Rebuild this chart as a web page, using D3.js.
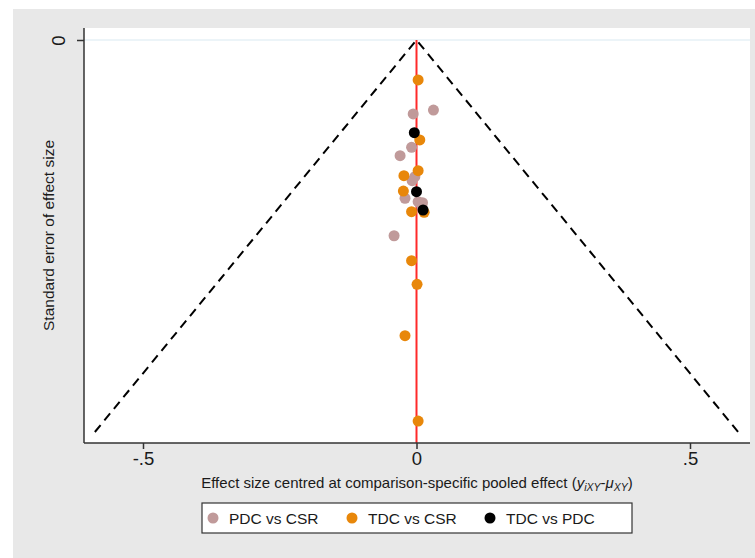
<!DOCTYPE html>
<html>
<head>
<meta charset="utf-8">
<script src="https://cdn.jsdelivr.net/npm/d3@7"></script>
<style>
    body { margin: 0; background: #fff; }
    text { font-family: "Liberation Sans", Arial, sans-serif; fill: #1a1a1a; }
</style>
</head>
<body>
<div id="chart"></div>
<script>
// comparison groups (legend order)
const groups = ["PDC vs CSR", "TDC vs CSR", "TDC vs PDC"];
const groupColors = ["#c09a9a", "#e8870a", "#000000"];

// centred effect (x) and standard error (y) for each group
const pdcCsrEffect = [-0.006, 0.031, -0.009, -0.030, -0.003, -0.008, -0.021, 0.003, 0.011, 0.010, -0.041];
const pdcCsrSE     = [0.0566, 0.0536, 0.0821, 0.0885, 0.1046, 0.1077, 0.1211, 0.1237, 0.1245, 0.1276, 0.1498];

const tdcCsrEffect = [0.003, 0.006, 0.003, -0.023, -0.024, -0.009, 0.014, -0.009, 0.001, -0.021, 0.003];
const tdcCsrSE     = [0.0306, 0.0765, 0.1000, 0.1038, 0.1156, 0.1314, 0.1319, 0.1689, 0.1870, 0.2263, 0.2916];

const tdcPdcEffect = [-0.004, 0.000, 0.012];
const tdcPdcSE     = [0.0709, 0.1161, 0.1301];

const xTicks = [-0.5, 0, 0.5];
const xTickLabels = ["-.5", "0", ".5"];
const yTicks = [0];
const seMax = 0.30; // pseudo confidence limits drawn down to this SE

createChart('chart');

function createChart(htmlId) {
    const W = 755, H = 558;

    let svg = d3.select(`#${htmlId}`)
        .append("svg")
        .attr("width", W)
        .attr("height", H);

    // grey graph region (Stata s2color style)
    svg.append("rect")
        .attr("x", 13).attr("y", 9)
        .attr("width", W - 13).attr("height", H - 9)
        .attr("fill", "#e8e8e8");

    // plot region
    const plot = { left: 84, right: 750, top: 28, bottom: 443 };
    svg.append("rect")
        .attr("x", plot.left).attr("y", plot.top)
        .attr("width", plot.right - plot.left).attr("height", plot.bottom - plot.top)
        .attr("fill", "#ffffff");

    // scales: SE axis runs downward from 0
    const x = d3.scaleLinear().domain([-0.5, 0.5]).range([143, 690]);
    const y = d3.scaleLinear().domain([0, seMax]).range([40, 432]);

    // faint gridline at SE = 0
    svg.append("line")
        .attr("x1", plot.left).attr("x2", plot.right)
        .attr("y1", y(0)).attr("y2", y(0))
        .attr("stroke", "#e6f0f6").attr("stroke-width", 1.5);

    // pseudo 95% limits
    const funnel = [[-1.96 * seMax, seMax], [0, 0], [1.96 * seMax, seMax]];
    svg.append("path")
        .attr("d", d3.line().x(d => x(d[0])).y(d => y(d[1]))(funnel))
        .attr("fill", "none")
        .attr("stroke", "#000")
        .attr("stroke-width", 2)
        .attr("stroke-dasharray", "9,6");

    // line of no difference
    svg.append("line")
        .attr("x1", x(0)).attr("x2", x(0))
        .attr("y1", y(0)).attr("y2", plot.bottom)
        .attr("stroke", "#ff2a2a").attr("stroke-width", 2);

    // points, group by group
    const series = [
        { effect: pdcCsrEffect, se: pdcCsrSE },
        { effect: tdcCsrEffect, se: tdcCsrSE },
        { effect: tdcPdcEffect, se: tdcPdcSE }
    ];
    series.forEach((s, i) => {
        let pts = s.effect.map((e, j) => ({ e: e, se: s.se[j] }));
        svg.append("g").selectAll("circle")
            .data(pts)
            .enter().append("circle")
            .attr("cx", d => x(d.e))
            .attr("cy", d => y(d.se))
            .attr("r", 5.5)
            .attr("fill", groupColors[i]);
    });

    // x axis
    const xAxis = svg.append("g")
        .attr("transform", `translate(0, ${plot.bottom})`)
        .call(d3.axisBottom(x).tickValues(xTicks).tickSize(6).tickPadding(3)
            .tickFormat((d, i) => xTickLabels[i]));
    xAxis.select(".domain").attr("d", `M${plot.left},0H${plot.right}`).attr("stroke", "#333").attr("stroke-width", 1.5);
    xAxis.selectAll(".tick line").attr("stroke", "#333").attr("stroke-width", 1.5);
    xAxis.selectAll(".tick text").style("font-size", "18.5px").style("font-family", "Liberation Sans, Arial, sans-serif").attr("fill", "#1a1a1a");

    // y axis (only the 0 label, drawn vertical like Stata)
    const yAxis = svg.append("g")
        .attr("transform", `translate(${plot.left}, 0)`)
        .call(d3.axisLeft(y).tickValues(yTicks).tickSize(7).tickFormat(d3.format("d")));
    yAxis.select(".domain").attr("d", `M0,${plot.top}V${plot.bottom}`).attr("stroke", "#333").attr("stroke-width", 1.5);
    yAxis.selectAll(".tick line").attr("stroke", "#333").attr("stroke-width", 1.5);
    yAxis.selectAll(".tick text")
        .attr("x", 0)
        .attr("text-anchor", "middle")
        .attr("transform", "translate(-25, 0) rotate(-90)")
        .attr("dy", "0.35em")
        .style("font-size", "18.5px").style("font-family", "Liberation Sans, Arial, sans-serif").attr("fill", "#1a1a1a");

    // axis titles
    let xt = svg.append("text")
        .attr("x", (plot.left + plot.right) / 2)
        .attr("y", 488)
        .attr("text-anchor", "middle")
        .style("font-size", "15px");
    xt.append("tspan").text("Effect size centred at comparison-specific pooled effect (");
    xt.append("tspan").attr("font-style", "italic").text("y");
    xt.append("tspan").attr("font-style", "italic").attr("font-size", "10.5px").attr("dy", 3).text("iXY");
    xt.append("tspan").attr("dy", -3).text("-");
    xt.append("tspan").attr("font-style", "italic").text("μ");
    xt.append("tspan").attr("font-style", "italic").attr("font-size", "10.5px").attr("dy", 3).text("XY");
    xt.append("tspan").attr("dy", -3).text(")");

    svg.append("text")
        .attr("transform", `translate(54, ${(plot.top + plot.bottom) / 2}) rotate(-90)`)
        .attr("text-anchor", "middle")
        .style("font-size", "15.5px")
        .text("Standard error of effect size");

    // legend
    const legend = svg.append("g");
    legend.append("rect")
        .attr("x", 202).attr("y", 503)
        .attr("width", 430).attr("height", 30)
        .attr("fill", "#fff").attr("stroke", "#333").attr("stroke-width", 1.2);
    const legendX = [213, 352, 490];
    groups.forEach((g, i) => {
        legend.append("circle")
            .attr("cx", legendX[i]).attr("cy", 518).attr("r", 5.5)
            .attr("fill", groupColors[i]);
        legend.append("text")
            .attr("x", legendX[i] + 16).attr("y", 523.5)
            .style("font-size", "15.5px")
            .text(g);
    });
}
</script>
</body>
</html>
